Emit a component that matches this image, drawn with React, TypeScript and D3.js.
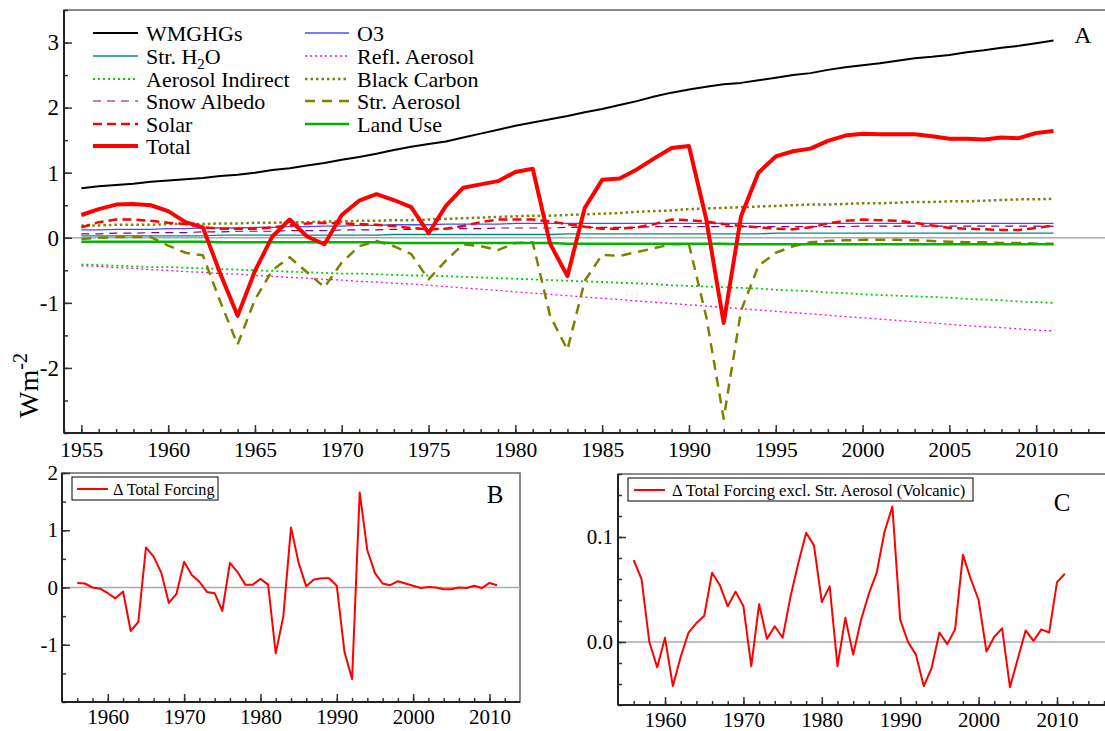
import { useRef, useEffect } from "react";
import * as d3 from "d3";

// ---- data ----
const years = [
  1955, 1956, 1957, 1958, 1959, 1960, 1961, 1962, 1963, 1964, 1965, 1966, 1967, 1968, 1969,
  1970, 1971, 1972, 1973, 1974, 1975, 1976, 1977, 1978, 1979, 1980, 1981, 1982, 1983, 1984,
  1985, 1986, 1987, 1988, 1989, 1990, 1991, 1992, 1993, 1994, 1995, 1996, 1997, 1998, 1999,
  2000, 2001, 2002, 2003, 2004, 2005, 2006, 2007, 2008, 2009, 2010, 2011,
];

const wmghg = [
  0.76, 0.79, 0.81, 0.83, 0.86, 0.88, 0.9, 0.92, 0.95, 0.97, 1.0, 1.04, 1.07, 1.11, 1.15,
  1.2, 1.24, 1.29, 1.35, 1.4, 1.44, 1.48, 1.54, 1.6, 1.66, 1.72, 1.77, 1.82, 1.87, 1.93,
  1.98, 2.04, 2.1, 2.17, 2.23, 2.28, 2.32, 2.36, 2.38, 2.42, 2.46, 2.5, 2.53, 2.58, 2.62,
  2.65, 2.68, 2.72, 2.76, 2.78, 2.81, 2.85, 2.88, 2.92, 2.95, 2.99, 3.03,
];

const o3 = [
  0.12, 0.12, 0.13, 0.13, 0.13, 0.14, 0.14, 0.15, 0.15, 0.15, 0.16, 0.16, 0.17, 0.17, 0.18,
  0.18, 0.19, 0.19, 0.2, 0.2, 0.2, 0.21, 0.21, 0.21, 0.21, 0.22, 0.22, 0.22, 0.22, 0.22,
  0.22, 0.22, 0.22, 0.22, 0.22, 0.22, 0.22, 0.22, 0.22, 0.22, 0.22, 0.22, 0.22, 0.22, 0.22,
  0.22, 0.22, 0.22, 0.22, 0.22, 0.22, 0.22, 0.22, 0.22, 0.22, 0.22, 0.22,
];

const strH2O = [
  0.03, 0.03, 0.03, 0.03, 0.03, 0.03, 0.03, 0.03, 0.04, 0.04, 0.04, 0.04, 0.04, 0.04, 0.04,
  0.04, 0.04, 0.04, 0.05, 0.05, 0.05, 0.05, 0.05, 0.05, 0.05, 0.05, 0.05, 0.05, 0.06, 0.06,
  0.06, 0.06, 0.06, 0.06, 0.06, 0.06, 0.06, 0.06, 0.06, 0.06, 0.07, 0.07, 0.07, 0.07, 0.07,
  0.07, 0.07, 0.07, 0.07, 0.07, 0.07, 0.07, 0.07, 0.07, 0.07, 0.07, 0.07,
];

const reflAerosol = [
  -0.43, -0.44, -0.46, -0.47, -0.49, -0.5, -0.52, -0.53, -0.55, -0.56, -0.58, -0.59, -0.61, -0.62, -0.64,
  -0.65, -0.67, -0.68, -0.7, -0.71, -0.73, -0.75, -0.77, -0.79, -0.81, -0.83, -0.85, -0.87, -0.89, -0.91,
  -0.93, -0.95, -0.97, -0.99, -1.01, -1.03, -1.05, -1.07, -1.09, -1.11, -1.13, -1.15, -1.17, -1.19, -1.21,
  -1.23, -1.25, -1.27, -1.29, -1.31, -1.33, -1.35, -1.37, -1.38, -1.4, -1.42, -1.43,
];

const aerosolIndirect = [
  -0.41, -0.42, -0.43, -0.44, -0.45, -0.45, -0.46, -0.47, -0.48, -0.49, -0.5, -0.51, -0.52, -0.53, -0.54,
  -0.55, -0.55, -0.56, -0.57, -0.58, -0.58, -0.59, -0.6, -0.61, -0.62, -0.63, -0.64, -0.65, -0.66, -0.67,
  -0.68, -0.69, -0.7, -0.71, -0.73, -0.74, -0.75, -0.76, -0.77, -0.78, -0.8, -0.81, -0.82, -0.84, -0.85,
  -0.87, -0.88, -0.89, -0.9, -0.91, -0.92, -0.94, -0.95, -0.96, -0.98, -0.99, -1.0,
];

const blackCarbon = [
  0.19, 0.19, 0.2, 0.2, 0.2, 0.21, 0.21, 0.21, 0.22, 0.22, 0.23, 0.23, 0.24, 0.24, 0.25,
  0.25, 0.26, 0.26, 0.27, 0.27, 0.28, 0.29, 0.3, 0.31, 0.32, 0.33, 0.34, 0.34, 0.35, 0.36,
  0.37, 0.38, 0.4, 0.41, 0.42, 0.44, 0.45, 0.46, 0.47, 0.48, 0.49, 0.5, 0.51, 0.51, 0.52,
  0.53, 0.53, 0.54, 0.55, 0.55, 0.56, 0.56, 0.57, 0.58, 0.59, 0.59, 0.6,
];

const snowAlbedo = [
  0.06, 0.06, 0.07, 0.07, 0.08, 0.08, 0.08, 0.09, 0.09, 0.1, 0.1, 0.1, 0.11, 0.11, 0.11,
  0.12, 0.12, 0.12, 0.13, 0.13, 0.13, 0.14, 0.14, 0.14, 0.15, 0.15, 0.15, 0.15, 0.16, 0.16,
  0.16, 0.16, 0.16, 0.17, 0.17, 0.17, 0.17, 0.17, 0.17, 0.17, 0.17, 0.17, 0.17, 0.17, 0.17,
  0.18, 0.18, 0.18, 0.18, 0.18, 0.18, 0.18, 0.18, 0.18, 0.18, 0.18, 0.18,
];

const strAerosol = [
  -0.02, 0.0, 0.01, 0.01, 0.01, -0.12, -0.23, -0.27, -0.98, -1.64, -0.95, -0.5, -0.3, -0.53, -0.76,
  -0.38, -0.13, -0.05, -0.13, -0.25, -0.64, -0.35, -0.1, -0.13, -0.19, -0.08, -0.07, -1.2, -1.72, -0.66,
  -0.26, -0.28, -0.22, -0.16, -0.1, -0.1, -1.22, -2.78, -1.12, -0.43, -0.23, -0.13, -0.07, -0.05, -0.04,
  -0.03, -0.03, -0.03, -0.04, -0.05, -0.06, -0.07, -0.07, -0.08, -0.08, -0.09, -0.09,
];

const solar = [
  0.16, 0.24, 0.28, 0.28, 0.26, 0.23, 0.21, 0.16, 0.14, 0.14, 0.14, 0.16, 0.19, 0.22, 0.23,
  0.22, 0.21, 0.2, 0.18, 0.15, 0.13, 0.14, 0.18, 0.24, 0.28, 0.28, 0.28, 0.25, 0.21, 0.17,
  0.14, 0.14, 0.16, 0.21, 0.28, 0.27, 0.25, 0.21, 0.18, 0.16, 0.14, 0.13, 0.16, 0.22, 0.26,
  0.28, 0.27, 0.26, 0.23, 0.19, 0.15, 0.14, 0.13, 0.12, 0.12, 0.15, 0.19,
];

const landUse = [
  -0.06, -0.06, -0.06, -0.06, -0.06, -0.06, -0.06, -0.06, -0.07, -0.07, -0.07, -0.07, -0.07, -0.07, -0.07,
  -0.07, -0.07, -0.07, -0.08, -0.08, -0.08, -0.08, -0.08, -0.08, -0.08, -0.08, -0.08, -0.08, -0.09, -0.09,
  -0.09, -0.09, -0.09, -0.09, -0.09, -0.09, -0.09, -0.09, -0.1, -0.1, -0.1, -0.1, -0.1, -0.1, -0.1,
  -0.1, -0.1, -0.1, -0.1, -0.1, -0.1, -0.1, -0.1, -0.1, -0.1, -0.1, -0.1,
];

const total = [
  0.35, 0.44, 0.51, 0.52, 0.5, 0.41, 0.24, 0.16, -0.55, -1.2, -0.51, 0.02, 0.28, 0.02, -0.1,
  0.35, 0.57, 0.67, 0.58, 0.47, 0.07, 0.49, 0.77, 0.82, 0.87, 1.01, 1.06, -0.09, -0.59, 0.46,
  0.89, 0.91, 1.05, 1.22, 1.38, 1.41, 0.28, -1.31, 0.33, 1.0, 1.25, 1.33, 1.37, 1.49, 1.57,
  1.6, 1.59, 1.59, 1.59, 1.56, 1.52, 1.52, 1.51, 1.54, 1.53, 1.61, 1.64,
];

// year-on-year changes (1956-2011)
const deltaYears = years.slice(1);

const deltaTotal = [
  0.08, 0.07, 0.0, -0.02, -0.1, -0.19, -0.07, -0.76, -0.6, 0.7, 0.54, 0.26, -0.27, -0.11,
  0.45, 0.22, 0.1, -0.08, -0.1, -0.41, 0.43, 0.27, 0.05, 0.05, 0.15, 0.05, -1.15, -0.5,
  1.05, 0.43, 0.02, 0.14, 0.16, 0.16, 0.03, -1.12, -1.6, 1.66, 0.65, 0.25, 0.07, 0.04,
  0.11, 0.07, 0.03, -0.01, 0.01, 0.0, -0.03, -0.03, 0.0, -0.01, 0.03, -0.01, 0.08, 0.04,
];

const deltaExclVolc = [
  0.078, 0.06, 0.0, -0.024, 0.004, -0.042, -0.014, 0.009, 0.018, 0.025, 0.066, 0.054, 0.034, 0.048,
  0.034, -0.023, 0.036, 0.003, 0.015, 0.004, 0.043, 0.075, 0.104, 0.092, 0.038, 0.053, -0.023, 0.023,
  -0.012, 0.021, 0.046, 0.066, 0.105, 0.129, 0.021, 0.0, -0.012, -0.042, -0.025, 0.009, -0.002, 0.012,
  0.083, 0.06, 0.04, -0.009, 0.005, 0.013, -0.043, -0.016, 0.011, 0.001, 0.012, 0.009, 0.057, 0.065,
];

const FONT = "'Liberation Serif', 'Times New Roman', serif";

// plain hyphen for negatives, like the original
const intFmt = (d) => d3.format("d")(d).replace("\u2212", "-");
const oneFmt = (d) => d3.format(".1f")(d).replace("\u2212", "-");

const App = () => {
  const container = useRef<SVGSVGElement>(null);

  useEffect(() => {
    createChart();
  }, []);

  const createChart = () => {
    const svg = d3.select(container.current);
    svg.selectAll("*").remove();

    // styles for panel A series
    const seriesA = [
      { name: "WMGHGs", data: wmghg, color: "#000000", w: 2, dash: null, col: 0, row: 0 },
      { name: "O3", data: o3, color: "#4b4bff", w: 1.3, dash: null, col: 1, row: 0 },
      { name: "Str. H2O", data: strH2O, color: "#008b8b", w: 1.3, dash: null, col: 0, row: 1 },
      { name: "Refl. Aerosol", data: reflAerosol, color: "#ff00ff", w: 1.3, dash: "2,3", col: 1, row: 1 },
      { name: "Aerosol Indirect", data: aerosolIndirect, color: "#00d000", w: 1.8, dash: "2,3", col: 0, row: 2 },
      { name: "Black Carbon", data: blackCarbon, color: "#808000", w: 2.5, dash: "2.5,3", col: 1, row: 2 },
      { name: "Snow Albedo", data: snowAlbedo, color: "#800080", w: 1.2, dash: "8,6", col: 0, row: 3 },
      { name: "Str. Aerosol", data: strAerosol, color: "#808000", w: 2.5, dash: "10,7", col: 1, row: 3 },
      { name: "Solar", data: solar, color: "#ff0000", w: 2.5, dash: "9,5", col: 0, row: 4 },
      { name: "Land Use", data: landUse, color: "#00b400", w: 2.5, dash: null, col: 1, row: 4 },
      { name: "Total", data: total, color: "#ff0000", w: 4, dash: null, col: 0, row: 5 },
    ];

    const drawFrame = (box, x, y, o) => {
      const g = svg.append("g");
      g.append("rect")
        .attr("x", box.l).attr("y", box.t)
        .attr("width", box.r - box.l).attr("height", box.b - box.t)
        .attr("fill", "none").attr("stroke", "#666").attr("stroke-width", 1.5);

      g.append("line")
        .attr("x1", box.l).attr("x2", box.r)
        .attr("y1", y(0)).attr("y2", y(0))
        .attr("stroke", "#aaa").attr("stroke-width", 1.5);

      const style = (sel, fs) => {
        sel.select(".domain").remove();
        sel.selectAll("line").attr("stroke", "#333").attr("stroke-width", 1.5);
        sel.selectAll("text").attr("font-family", FONT).attr("font-size", fs).attr("fill", "#000");
      };

      g.append("g")
        .attr("transform", `translate(0,${box.b})`)
        .call(d3.axisBottom(x).tickValues(o.xMinor).tickSize(-4).tickFormat(() => ""))
        .call((s) => style(s, o.fs));
      g.append("g")
        .attr("transform", `translate(0,${box.b})`)
        .call(d3.axisBottom(x).tickValues(o.xMajor).tickSize(-8).tickPadding(o.xPad).tickFormat(intFmt))
        .call((s) => style(s, o.fs));

      g.append("g")
        .attr("transform", `translate(${box.l},0)`)
        .call(d3.axisLeft(y).tickValues(o.yMinor).tickSize(-4).tickFormat(() => ""))
        .call((s) => style(s, o.fs));
      g.append("g")
        .attr("transform", `translate(${box.l},0)`)
        .call(d3.axisLeft(y).tickValues(o.yMajor).tickSize(-8).tickPadding(o.yPad).tickFormat(o.yFmt))
        .call((s) => style(s, o.yfs || o.fs));

      // heavier left & bottom axis lines
      g.append("line").attr("x1", box.l).attr("x2", box.l).attr("y1", box.t).attr("y2", box.b)
        .attr("stroke", "#222").attr("stroke-width", 2);
      g.append("line").attr("x1", box.l).attr("x2", box.r).attr("y1", box.b).attr("y2", box.b)
        .attr("stroke", "#222").attr("stroke-width", 2);
      return g;
    };

    // ---------------- Panel A ----------------
    const boxA = { l: 64, t: 10, r: 1110, b: 433 };
    const xA = d3.scaleLinear().domain([1954, 2014]).range([64, 1105.6]);
    const yA = d3.scaleLinear().domain([-3, 3.5]).range([433, 10]);

    drawFrame(boxA, xA, yA, {
      xMajor: d3.range(1955, 2011, 5),
      xMinor: d3.range(1954, 2015, 1),
      yMajor: [-2, -1, 0, 1, 2, 3],
      yMinor: d3.range(-3, 3.51, 0.5),
      yFmt: intFmt,
      fs: 21.5,
      yfs: 23,
      xPad: 9,
      yPad: 5,
    });

    const lineA = d3
      .line<number>()
      .x((d, i) => xA(years[i]))
      .y((d) => yA(d));

    const plotA = svg.append("g");
    seriesA.forEach((s) => {
      plotA.append("path")
        .datum(s.data)
        .attr("d", lineA)
        .attr("fill", "none")
        .attr("stroke", s.color)
        .attr("stroke-width", s.w)
        .attr("stroke-dasharray", s.dash)
        .attr("stroke-linejoin", "round");
    });

    // legend A
    const legA = svg.append("g").attr("font-family", FONT).attr("font-size", 22);
    const colX = [
      { x0: 93, x1: 138, tx: 146 },
      { x0: 305, x1: 349, tx: 357 },
    ];
    const rowY = [33, 56, 79, 101, 124, 146];
    seriesA.forEach((s) => {
      const c = colX[s.col];
      const yy = rowY[s.row];
      legA.append("line")
        .attr("x1", c.x0).attr("x2", c.x1).attr("y1", yy).attr("y2", yy)
        .attr("stroke", s.color).attr("stroke-width", s.w).attr("stroke-dasharray", s.dash);
      const t = legA.append("text").attr("x", c.tx).attr("y", yy).attr("dy", "0.35em");
      if (s.name === "Str. H2O") {
        t.append("tspan").text("Str. H");
        t.append("tspan").attr("dy", 5).attr("font-size", 15).text("2");
        t.append("tspan").attr("dy", -5).text("O");
      } else {
        t.text(s.name);
      }
    });

    svg.append("text")
      .attr("x", 1083).attr("y", 43)
      .attr("text-anchor", "middle")
      .attr("font-family", FONT).attr("font-size", 24)
      .text("A");

    const ylab = svg.append("text")
      .attr("transform", "translate(38,418) rotate(-90)")
      .attr("text-anchor", "start")
      .attr("font-family", FONT).attr("font-size", 28);
    ylab.append("tspan").text("Wm");
    ylab.append("tspan").attr("dy", -11).attr("font-size", 20).text("-2");

    // ---------------- Panel B ----------------
    const boxB = { l: 62, t: 473, r: 520, b: 702 };
    const xB = d3.scaleLinear().domain([1954, 2014]).range([62, 520]);
    const yB = d3.scaleLinear().domain([-2, 2]).range([702, 473]);

    drawFrame(boxB, xB, yB, {
      xMajor: d3.range(1960, 2011, 10),
      xMinor: d3.range(1956, 2014, 2),
      yMajor: [-1, 0, 1, 2],
      yMinor: d3.range(-2, 2.01, 0.5),
      yFmt: intFmt,
      fs: 21,
      xPad: 7,
      yPad: 4,
    });

    svg.append("path")
      .datum(deltaTotal)
      .attr("d", d3.line<number>().x((d, i) => xB(deltaYears[i])).y((d) => yB(d)))
      .attr("fill", "none").attr("stroke", "#ff0000").attr("stroke-width", 2)
      .attr("stroke-linejoin", "round");

    const legB = svg.append("g");
    legB.append("rect").attr("x", 72).attr("y", 477).attr("width", 146).attr("height", 23)
      .attr("fill", "#fff").attr("stroke", "#000").attr("stroke-width", 1);
    legB.append("line").attr("x1", 77).attr("x2", 108).attr("y1", 489).attr("y2", 489)
      .attr("stroke", "#ff0000").attr("stroke-width", 2);
    legB.append("text").attr("x", 113).attr("y", 489).attr("dy", "0.35em")
      .attr("font-family", FONT).attr("font-size", 16.3).text("\u0394 Total Forcing");

    svg.append("text")
      .attr("x", 495).attr("y", 503)
      .attr("text-anchor", "middle")
      .attr("font-family", FONT).attr("font-size", 25)
      .text("B");

    // ---------------- Panel C ----------------
    const boxC = { l: 618, t: 474, r: 1110, b: 705 };
    const xC = d3.scaleLinear().domain([1954, 2016.2]).range([618, 1105.6]);
    const yC = d3.scaleLinear().domain([-0.06, 0.16]).range([705, 474]);

    drawFrame(boxC, xC, yC, {
      xMajor: d3.range(1960, 2011, 10),
      xMinor: d3.range(1956, 2017, 2),
      yMajor: [0, 0.1],
      yMinor: d3.range(-0.06, 0.161, 0.02),
      yFmt: oneFmt,
      fs: 21,
      xPad: 7,
      yPad: 5,
    });

    svg.append("path")
      .datum(deltaExclVolc)
      .attr("d", d3.line<number>().x((d, i) => xC(deltaYears[i])).y((d) => yC(d)))
      .attr("fill", "none").attr("stroke", "#ff0000").attr("stroke-width", 2)
      .attr("stroke-linejoin", "round");

    const legC = svg.append("g");
    legC.append("rect").attr("x", 628).attr("y", 478).attr("width", 345).attr("height", 23)
      .attr("fill", "#fff").attr("stroke", "#000").attr("stroke-width", 1);
    legC.append("line").attr("x1", 634).attr("x2", 665).attr("y1", 490).attr("y2", 490)
      .attr("stroke", "#ff0000").attr("stroke-width", 2);
    legC.append("text").attr("x", 672).attr("y", 490).attr("dy", "0.35em")
      .attr("font-family", FONT).attr("font-size", 16.5)
      .text("\u0394 Total Forcing excl. Str. Aerosol (Volcanic)");

    svg.append("text")
      .attr("x", 1062).attr("y", 511)
      .attr("text-anchor", "middle")
      .attr("font-family", FONT).attr("font-size", 25)
      .text("C");
  };

  return (
    <svg
      ref={container}
      width={1105}
      height={731}
      style={{ position: "absolute", left: 0, top: 0, background: "#fff" }}
    />
  );
};

export default App;
